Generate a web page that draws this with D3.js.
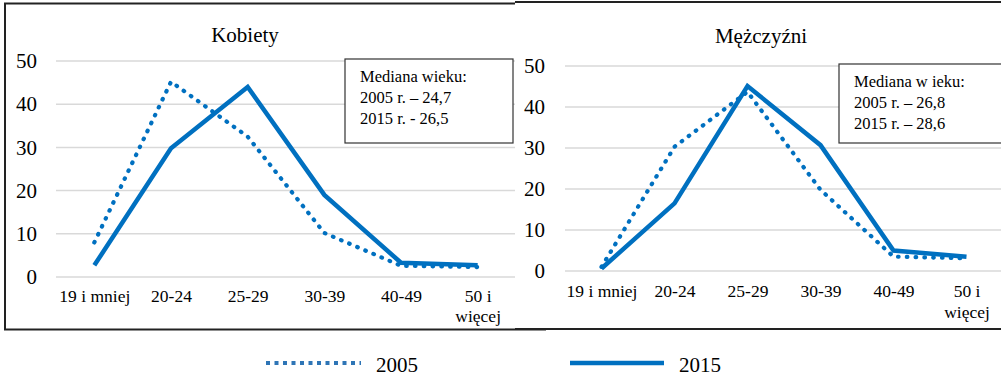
<!DOCTYPE html>
<html><head><meta charset="utf-8">
<script src="https://cdn.jsdelivr.net/npm/d3@7"></script>
<style>html,body{margin:0;padding:0;background:#fff;}</style></head>
<body>
<svg id="c" width="1001" height="378" font-family="Liberation Serif" style="font-family:'Liberation Serif'"></svg>
<script>
const categories = ["19 i mniej","20-24","25-29","30-39","40-49","50 i więcej"];
const yTicks = [0,10,20,30,40,50];
const kobiety2005 = [8.0, 45.2, 32.5, 10.2, 2.6, 2.3];
const kobiety2015 = [2.7, 29.8, 44.0, 19.0, 3.3, 2.7];
const mezczyzni2005 = [1.0, 30.3, 43.7, 19.8, 3.5, 3.1];
const mezczyzni2015 = [0.6, 16.5, 45.1, 30.7, 5.0, 3.5];
const seriesNames = ["2005","2015"];
const medianKobiety = ["Mediana wieku:","2005 r. – 24,7","2015 r. - 26,5"];
const medianMezczyzni = ["Mediana w ieku:","2005 r. – 26,8","2015 r. – 28,6"];

const blue = "#0070C0";
const FONT = "Liberation Serif";
const svg = d3.select("#c");

function txt(sel, size){
  return sel.attr("font-family",FONT).attr("font-size",size).style("font-family","'Liberation Serif'").attr("fill","#000");
}

function panel(cfg){
  const g = svg.append("g").attr("font-family",FONT);
  if (cfg.frame === "left") {
    g.append("rect").attr("x",5).attr("y",3.5).attr("width",540).attr("height",326)
      .attr("fill","#fff").attr("stroke","#222").attr("stroke-width",2);
  } else {
    g.append("rect").attr("x",515).attr("y",0).attr("width",490).attr("height",330).attr("fill","#fff");
    g.append("line").attr("x1",515).attr("x2",1001).attr("y1",2).attr("y2",2).attr("stroke","#222").attr("stroke-width",2);
    g.append("line").attr("x1",515).attr("x2",1001).attr("y1",329).attr("y2",329).attr("stroke","#222").attr("stroke-width",2);
  }
  const x = d3.scalePoint().domain(categories).range([cfg.x0, cfg.x1]).padding(0.5);
  const y = d3.scaleLinear().domain([0,50]).range([cfg.yb, cfg.yt]);
  g.append("g").selectAll("line").data(yTicks).join("line")
    .attr("x1",cfg.x0).attr("x2",cfg.x1)
    .attr("y1",d=>y(d)).attr("y2",d=>y(d))
    .attr("stroke","#d9d9d9").attr("stroke-width",1.5);
  const ya = g.append("g").attr("transform",`translate(${cfg.x0},0)`)
    .call(d3.axisLeft(y).tickValues(yTicks).tickSize(0).tickPadding(cfg.ypad));
  ya.attr("font-family",FONT).attr("font-size",21);
  ya.select(".domain").remove();
  txt(ya.selectAll("text"),21);
  const xa = g.append("g").attr("transform",`translate(0,${cfg.yb})`)
    .call(d3.axisBottom(x).tickSize(0).tickPadding(0));
  xa.attr("font-family",FONT).attr("font-size",17.5);
  xa.select(".domain").remove();
  txt(xa.selectAll("text"),17.5)
    .attr("dy",null).attr("y",cfg.xlab)
    .each(function(d){
      const t = d3.select(this);
      if (d === "50 i więcej") {
        t.text(null);
        t.append("tspan").attr("x",0).attr("y",cfg.xlab).text("50 i");
        t.append("tspan").attr("x",0).attr("y",cfg.xlab+20.5).text("więcej");
      }
    });
  const line = d3.line().x((d,i)=>x(categories[i])).y(d=>y(d));
  g.append("path").datum(cfg.s2005).attr("d",line).attr("fill","none")
    .attr("stroke",blue).attr("stroke-width",4.2).attr("stroke-dasharray","0.6,8.2")
    .attr("stroke-linecap","round").attr("stroke-linejoin","round");
  g.append("path").datum(cfg.s2015).attr("d",line).attr("fill","none")
    .attr("stroke",blue).attr("stroke-width",4.5).attr("stroke-linejoin","miter").attr("stroke-linecap","butt");
  txt(g.append("text").attr("x",cfg.tx).attr("y",cfg.ty).attr("text-anchor","middle"),21).text(cfg.title);
  g.append("rect").attr("x",cfg.bx).attr("y",cfg.by).attr("width",cfg.bw).attr("height",cfg.bh)
    .attr("fill","#fff").attr("stroke","#333").attr("stroke-width",1.2);
  txt(g.append("g").selectAll("text").data(cfg.median).join("text")
    .attr("x",cfg.bx+15).attr("y",(d,i)=>cfg.by+23+i*21),16.5).text(d=>d);
}

panel({frame:"left", x0:56, x1:516, yb:277, yt:61, ypad:19, xlab:24.5,
  s2005:kobiety2005, s2015:kobiety2015, title:"Kobiety", tx:245, ty:42,
  bx:345, by:59, bw:168, bh:84, median:medianKobiety});
panel({frame:"right", x0:565, x1:1003, yb:271, yt:66, ypad:20, xlab:26,
  s2005:mezczyzni2005, s2015:mezczyzni2015, title:"Mężczyźni", tx:761, ty:43,
  bx:839, by:64, bw:170, bh:79, median:medianMezczyzni});

const lg = svg.append("g");
lg.append("line").attr("x1",266).attr("x2",361).attr("y1",363).attr("y2",363)
  .attr("stroke","#2E75B6").attr("stroke-width",4).attr("stroke-dasharray","4,4.5");
txt(lg.append("text").attr("x",376).attr("y",372),21).text(seriesNames[0]);
lg.append("line").attr("x1",570).attr("x2",664).attr("y1",363).attr("y2",363)
  .attr("stroke",blue).attr("stroke-width",4.5);
txt(lg.append("text").attr("x",679).attr("y",372),21).text(seriesNames[1]);
</script>
</body></html>
